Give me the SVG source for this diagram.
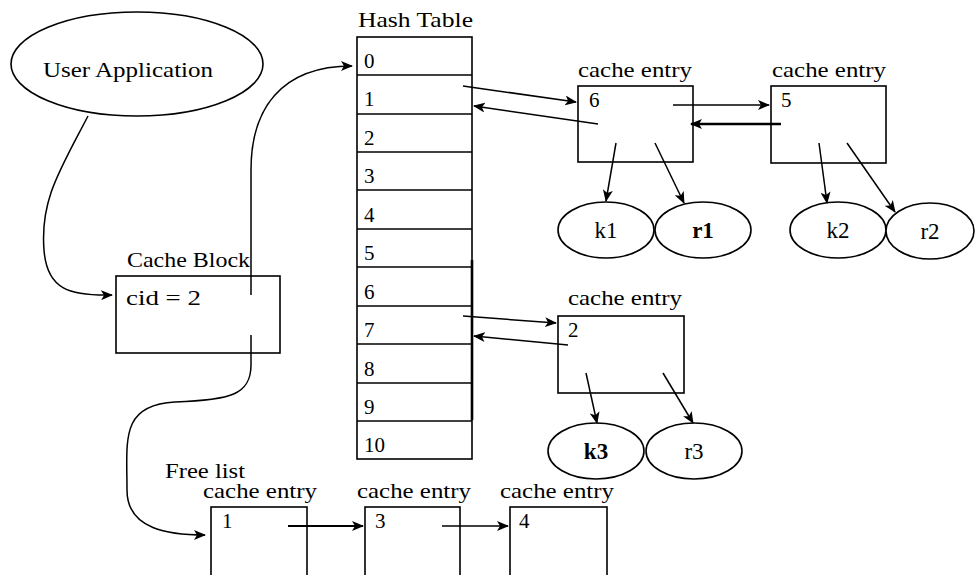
<svg xmlns="http://www.w3.org/2000/svg" width="976" height="575" viewBox="0 0 976 575">
<style>
text{font-family:"Liberation Serif","DejaVu Serif",serif;font-size:21px;fill:#000}
.e{font-size:23px}
.b{stroke:#000;stroke-width:1.6;fill:#fff}
.c{stroke:#000;stroke-width:1.5;fill:none;marker-end:url(#ah)}
.bold{font-weight:bold}
</style>
<defs>
<marker id="ah" viewBox="0 0 12 10" refX="11" refY="5" markerWidth="12" markerHeight="10" markerUnits="userSpaceOnUse" orient="auto">
<path d="M0,0 L12,5 L0,10 L3,5 Z" fill="#000"/>
</marker>
</defs>
<rect width="976" height="575" fill="#fff"/>

<g id="user-app">
<ellipse class="b" cx="137" cy="64" rx="126" ry="52"/>
<text x="43" y="77" textLength="170" lengthAdjust="spacingAndGlyphs">User Application</text>
</g>

<g id="hash-table">
<text x="358" y="27" textLength="115" lengthAdjust="spacingAndGlyphs">Hash Table</text>
<rect class="b" x="357" y="37" width="115" height="422"/>
<g stroke="#000" stroke-width="1.6">
<line x1="357" y1="75" x2="472" y2="75"/>
<line x1="357" y1="114" x2="472" y2="114"/>
<line x1="357" y1="152" x2="472" y2="152"/>
<line x1="357" y1="190" x2="472" y2="190"/>
<line x1="357" y1="229" x2="472" y2="229"/>
<line x1="357" y1="267" x2="472" y2="267"/>
<line x1="357" y1="306" x2="472" y2="306"/>
<line x1="357" y1="344" x2="472" y2="344"/>
<line x1="357" y1="383" x2="472" y2="383"/>
<line x1="357" y1="421" x2="472" y2="421"/>
</g>
<line x1="472" y1="260" x2="472" y2="420" stroke="#000" stroke-width="2.6"/>
<text x="364" y="68">0</text>
<text x="364" y="106">1</text>
<text x="364" y="145">2</text>
<text x="364" y="183">3</text>
<text x="364" y="222">4</text>
<text x="364" y="260">5</text>
<text x="364" y="299">6</text>
<text x="364" y="337">7</text>
<text x="364" y="376">8</text>
<text x="364" y="414">9</text>
<text x="364" y="452">10</text>
</g>

<g id="cache-block">
<text x="127" y="267" textLength="123" lengthAdjust="spacingAndGlyphs">Cache Block</text>
<rect class="b" x="116" y="276" width="164" height="77"/>
<text x="126" y="305" textLength="75" lengthAdjust="spacingAndGlyphs">cid = 2</text>
</g>

<g id="entry-6">
<text x="578" y="77" textLength="114" lengthAdjust="spacingAndGlyphs">cache entry</text>
<rect class="b" x="578" y="86" width="115" height="76"/>
<text x="589" y="107">6</text>
</g>
<g id="entry-5">
<text x="772" y="77" textLength="114" lengthAdjust="spacingAndGlyphs">cache entry</text>
<rect class="b" x="771" y="86" width="115" height="77"/>
<text x="781" y="107">5</text>
</g>
<g id="k1"><ellipse class="b" cx="606" cy="230" rx="48" ry="28"/><text class="e" x="606" y="238" text-anchor="middle">k1</text></g>
<g id="r1"><ellipse class="b" cx="703" cy="230" rx="48" ry="28"/><text class="e bold" x="703" y="238" text-anchor="middle">r1</text></g>
<g id="k2"><ellipse class="b" cx="838" cy="230" rx="48" ry="28"/><text class="e" x="838" y="238" text-anchor="middle">k2</text></g>
<g id="r2"><ellipse class="b" cx="930" cy="231" rx="44" ry="28"/><text class="e" x="930" y="239" text-anchor="middle">r2</text></g>

<g id="entry-2">
<text x="568" y="305" textLength="114" lengthAdjust="spacingAndGlyphs">cache entry</text>
<rect class="b" x="558" y="316" width="126" height="77"/>
<text x="568" y="337">2</text>
</g>
<g id="k3"><ellipse class="b" cx="596" cy="451" rx="48" ry="28"/><text class="e bold" x="596" y="459" text-anchor="middle">k3</text></g>
<g id="r3"><ellipse class="b" cx="694" cy="451" rx="48" ry="28"/><text class="e" x="694" y="459" text-anchor="middle">r3</text></g>

<g id="free-list">
<text x="165" y="478" textLength="80" lengthAdjust="spacingAndGlyphs">Free list</text>
</g>
<g id="free-1">
<text x="203" y="498" textLength="114" lengthAdjust="spacingAndGlyphs">cache entry</text>
<rect class="b" x="211" y="507" width="96" height="75"/>
<text x="222" y="528">1</text>
</g>
<g id="free-3">
<text x="357" y="498" textLength="114" lengthAdjust="spacingAndGlyphs">cache entry</text>
<rect class="b" x="365" y="507" width="95" height="75"/>
<text x="375" y="528">3</text>
</g>
<g id="free-4">
<text x="500" y="498" textLength="114" lengthAdjust="spacingAndGlyphs">cache entry</text>
<rect class="b" x="510" y="507" width="97" height="75"/>
<text x="519" y="528">4</text>
</g>

<g id="connectors">
<path class="c" d="M88,116 C60,170 40,200 44,250 C47,290 70,296 112,295"/>
<path class="c" d="M251,295 L251,170 C251,110 280,66 352,66"/>
<path class="c" d="M251,335 L251,365 C251,395 230,400 175,402 C120,405 127,440 127,490 C127,530 170,535 205,535"/>
<path class="c" d="M463,86 L576,102"/>
<path class="c" d="M598,124 L474,106"/>
<path class="c" d="M673,105 L769,105"/>
<path class="c" d="M781,124 L691,124" style="stroke-width:2.4"/>
<path class="c" d="M616,143 L606,201"/>
<path class="c" d="M655,143 L684,203"/>
<path class="c" d="M819,143 L827,203"/>
<path class="c" d="M847,143 L895,212"/>
<path class="c" d="M463,316 L556,323"/>
<path class="c" d="M568,345 L474,336"/>
<path class="c" d="M586,373 L597,423"/>
<path class="c" d="M663,373 L693,423"/>
<path class="c" d="M288,526 L363,526" style="stroke-width:2"/>
<path class="c" d="M442,526 L508,526"/>
</g>
</svg>
